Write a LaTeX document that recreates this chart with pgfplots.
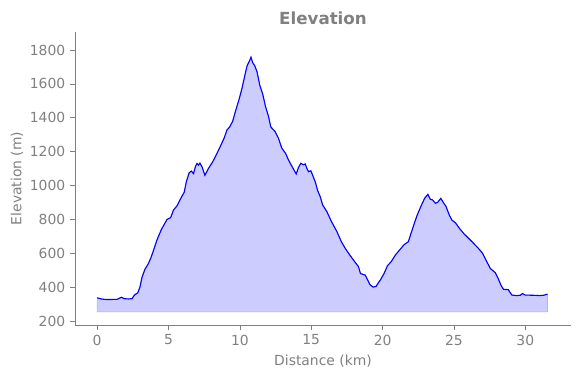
\documentclass[border=0pt]{standalone}
\usepackage{pgfplots}
\pgfplotsset{compat=1.18}
\usepgfplotslibrary{fillbetween}
\usepackage{fontspec}
\setmainfont{DejaVu Sans}
\definecolor{txtgray}{RGB}{128,128,128}
\definecolor{fillblue}{RGB}{204,204,255}
\pgfplotstableread{
x y
0 337
0.3 330
0.6 327
1.0 327
1.4 328
1.7 340
1.9 332
2.2 330
2.45 332
2.6 352
2.85 367
3.0 400
3.15 460
3.35 505
3.6 540
3.8 580
4.0 630
4.2 680
4.5 740
4.7 770
4.9 800
5.15 810
5.35 855
5.6 880
5.9 930
6.1 960
6.25 1022
6.45 1075
6.6 1085
6.75 1070
6.9 1115
7.0 1130
7.1 1120
7.2 1132
7.35 1110
7.55 1060
7.8 1100
8.1 1140
8.4 1190
8.62 1229
8.9 1280
9.1 1328
9.3 1347
9.5 1380
9.7 1440
9.95 1510
10.15 1574
10.35 1650
10.5 1705
10.7 1740
10.78 1757
10.9 1725
11.05 1705
11.2 1672
11.4 1590
11.6 1540
11.8 1465
12.0 1410
12.17 1345
12.47 1318
12.7 1280
12.94 1220
13.2 1190
13.41 1150
13.7 1105
13.95 1068
14.1 1105
14.27 1131
14.45 1122
14.58 1127
14.7 1100
14.81 1081
14.97 1087
15.1 1060
15.28 1022
15.45 970
15.63 934
15.8 885
16.1 845
16.4 790
16.8 727
17.1 670
17.38 629
17.7 590
18.0 555
18.31 521
18.45 480
18.78 471
19.0 435
19.13 413
19.34 400
19.55 405
19.7 425
19.9 450
20.1 480
20.34 526
20.6 550
20.9 590
21.2 620
21.5 650
21.8 668
22.1 745
22.4 820
22.7 880
22.95 925
23.17 948
23.35 918
23.5 915
23.7 895
23.85 900
24.08 924
24.25 900
24.45 875
24.65 830
24.85 796
25.1 780
25.4 745
25.7 715
26.0 690
26.3 665
26.7 630
27.0 600
27.3 550
27.55 510
27.9 485
28.1 450
28.3 410
28.47 387
28.8 385
29.06 353
29.4 350
29.65 352
29.8 362
30.0 353
30.5 352
31.0 350
31.3 352
31.55 359
}\elev
\pgfplotstableread{
x y
0 255
31.55 255
}\base
\begin{document}
\begin{tikzpicture}
\begin{axis}[
  name=ax, at={(0,0)}, anchor=south west,
  scale only axis, width=357.1pt, height=211pt,
  xmin=-1.55, xmax=33.2, ymin=176, ymax=1906,
  axis x line*=bottom, axis y line*=left,
  axis line style={txtgray, -},
  tick style={txtgray, thin}, tick align=outside,
  major tick length=3.5pt,
  xtick={0,5,...,30}, ytick={200,400,...,1800},
  ticklabel style={font=\fontsize{10}{12}\selectfont, text=txtgray},
  /pgf/number format/assume math mode=true,
  /pgf/number format/set thousands separator={},
  xlabel={Distance (km)}, ylabel={Elevation (m)},
  label style={font=\fontsize{10}{12}\selectfont, text=txtgray},
  ylabel style={yshift=-2pt},
  title={\textbf{Elevation}},
  title style={font=\fontsize{12}{14}\selectfont, text=txtgray, yshift=-4pt},
]
\addplot[name path=top, draw=none, forget plot] table[x=x,y=y] {\elev};
\addplot[name path=bot, draw=none, forget plot] table[x=x,y=y] {\base};
\addplot[fillblue, draw=blue!30, line width=0.5pt] fill between[of=top and bot];
\addplot[blue, line width=0.8pt] table[x=x,y=y] {\elev};
\end{axis}
\path ([shift={(-54pt,-38.16pt)}]ax.south west) rectangle ([shift={(6.48pt,23.04pt)}]ax.north east);
\end{tikzpicture}
\end{document}
